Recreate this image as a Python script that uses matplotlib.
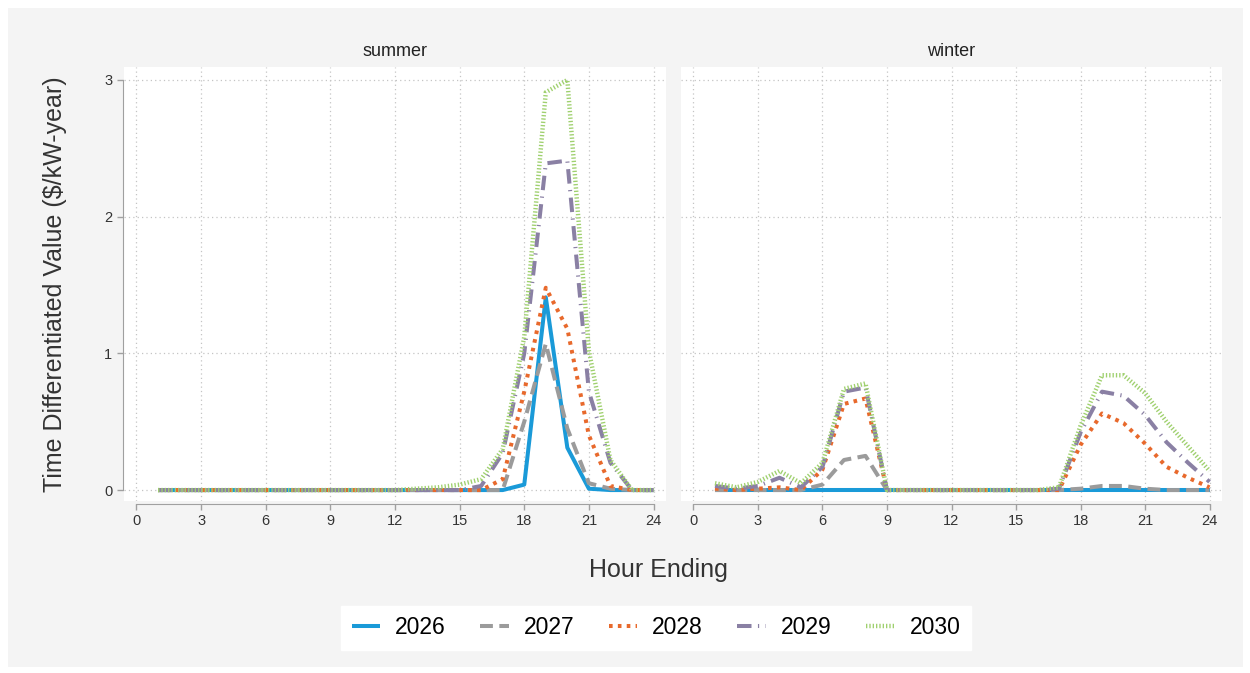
import matplotlib
matplotlib.use("Agg")
import matplotlib.pyplot as plt
from matplotlib.patches import Rectangle
import numpy as np

plt.rcParams['font.family'] = ['Liberation Sans', 'DejaVu Sans']

hours = list(range(1, 25))
years = ["2026", "2027", "2028", "2029", "2030"]

summer_2026 = [0]*17 + [0.04, 1.41, 0.31, 0.01, 0, 0, 0]
summer_2027 = [0]*16 + [0.0, 0.5, 1.07, 0.45, 0.05, 0.01, 0, 0]
summer_2028 = [0]*16 + [0.08, 0.72, 1.48, 1.18, 0.40, 0.03, 0, 0]
summer_2029 = [0]*15 + [0.03, 0.27, 1.0, 2.39, 2.41, 0.72, 0.20, 0.0, 0]
summer_2030 = [0]*12 + [0.01, 0.02, 0.04, 0.08, 0.30, 1.12, 2.91, 3.0, 1.02, 0.22, 0.0, 0]

winter_2026 = [0]*24
winter_2027 = [0, 0, 0, 0, 0, 0.04, 0.22, 0.25, 0, 0, 0, 0, 0, 0, 0, 0, 0,
               0.01, 0.03, 0.03, 0.01, 0, 0, 0]
winter_2028 = [0.01, 0.0, 0.01, 0.02, 0.0, 0.15, 0.63, 0.67, 0, 0, 0, 0, 0, 0, 0, 0, 0,
               0.33, 0.56, 0.49, 0.34, 0.17, 0.09, 0.02]
winter_2029 = [0.03, 0.01, 0.03, 0.09, 0.02, 0.17, 0.72, 0.75, 0, 0, 0, 0, 0, 0, 0, 0, 0.01,
               0.42, 0.72, 0.69, 0.55, 0.35, 0.20, 0.06]
winter_2030 = [0.05, 0.02, 0.06, 0.14, 0.05, 0.20, 0.74, 0.78, 0, 0, 0, 0, 0, 0, 0, 0, 0.02,
               0.47, 0.84, 0.84, 0.71, 0.50, 0.32, 0.14]

summer = [summer_2026, summer_2027, summer_2028, summer_2029, summer_2030]
winter = [winter_2026, winter_2027, winter_2028, winter_2029, winter_2030]
panels = ["summer", "winter"]

colors = ["#1a9ad8", "#9b9b9b", "#e8692c", "#8a80a4", "#9fd06e"]
styles = [
    dict(linestyle="-", linewidth=2.9),
    dict(linestyle=(0, (3.2, 1.6)), linewidth=2.9),
    dict(linestyle=(0, (0.9, 1.3)), linewidth=2.9),
    dict(linestyle=(0, (3.6, 1.6, 0.3, 1.6)), linewidth=2.9),
    dict(linestyle=(0, (0.3, 0.45)), linewidth=3.2),
]

W, H = 1250, 673
fig = plt.figure(figsize=(W/100, H/100), dpi=100)
fig.patch.set_facecolor("white")
fig.add_artist(Rectangle((8/W, 6/H), (1243-8)/W, (665-6)/H, transform=fig.transFigure,
                         facecolor="#f4f4f4", edgecolor="none", zorder=-10))

ax_pos = [(124, 666), (681, 1222)]
top, bot = 67, 501
axes = []
for i, (x0, x1) in enumerate(ax_pos):
    ax = fig.add_axes([x0/W, (H-bot)/H, (x1-x0)/W, (bot-top)/H])
    axes.append(ax)
    data = summer if i == 0 else winter
    for y, c, st, lab in zip(data, colors, styles, years):
        ax.plot(hours, y, color=c, label=lab, solid_capstyle="butt",
                dash_capstyle="butt", **st)
    ax.set_xlim(-0.58, 24.58)
    ax.set_ylim(-0.08, 3.095)
    ax.set_xticks(range(0, 25, 3))
    ax.set_yticks([0, 1, 2, 3])
    ax.grid(True, color="#c4c4c4", linestyle=(0, (1, 2.5)), linewidth=0.9)
    ax.set_axisbelow(True)
    ax.set_facecolor("white")
    for s in ["top", "right"]:
        ax.spines[s].set_visible(False)
    ax.spines["bottom"].set_position(("outward", 2))
    ax.spines["bottom"].set_bounds(0, 24)
    ax.spines["bottom"].set_color("#a0a0a0")
    ax.tick_params(axis="both", colors="#a0a0a0", labelcolor="#333333",
                   labelsize=10.5, length=4, width=1)
    if i == 0:
        ax.spines["left"].set_position(("outward", 1))
        ax.spines["left"].set_bounds(0, 3)
        ax.spines["left"].set_color("#a0a0a0")
    else:
        ax.spines["left"].set_visible(False)
        ax.tick_params(axis="y", left=False, labelleft=False)
    ax.set_title(panels[i], fontsize=13, color="#222222", pad=8)

fig.text(55/W, 1 - 284/H, "Time Differentiated Value ($/kW-year)", rotation=90,
         ha="center", va="center", fontsize=18, color="#333333")
fig.text(658/W, 1 - 570/H, "Hour Ending", ha="center", va="center",
         fontsize=18, color="#333333")

handles, labels = axes[0].get_legend_handles_labels()
leg = fig.legend(handles, labels, loc="center", bbox_to_anchor=(656/W, 1 - 628/H),
                 ncol=5, fontsize=16.5, frameon=True, fancybox=False,
                 handlelength=1.25, handletextpad=0.65, columnspacing=1.5,
                 borderpad=0.45)
leg.get_frame().set_facecolor("white")
leg.get_frame().set_edgecolor("white")
leg.get_frame().set_alpha(1)

fig.savefig("out.png", dpi=100, facecolor=fig.get_facecolor())
